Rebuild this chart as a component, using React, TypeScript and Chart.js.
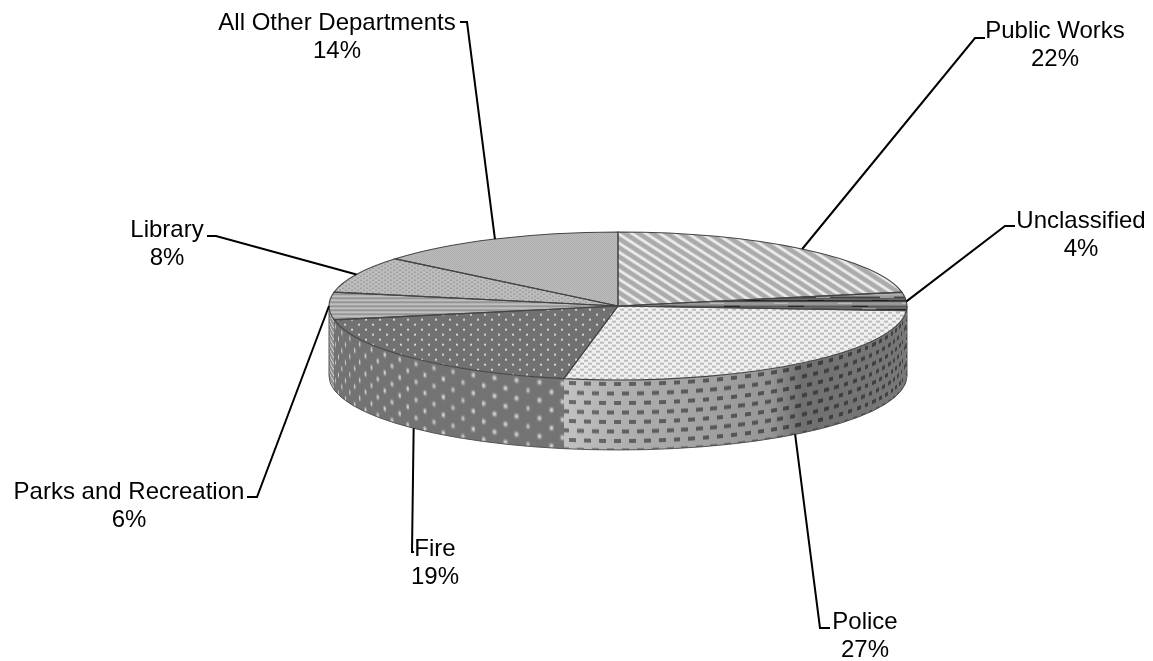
import React, { useEffect, useRef } from "react";
import { Chart, registerables } from "chart.js";

Chart.register(...registerables);

const departments = [
  "Public Works",
  "Unclassified",
  "Police",
  "Fire",
  "Parks and Recreation",
  "Library",
  "All Other Departments",
];
const shares = [22, 4, 27, 19, 6, 8, 14];

// Callout geometry: elbow of each leader and where its two text lines sit.
const elbows: [number, number, number][] = [
  [975, 38, 985],
  [1005, 226, 1015],
  [820, 628, 830],
  [412, 552, 414],
  [257, 497, 247],
  [216, 236, 207],
  [467, 22, 460],
];
const labelAnchors: [number, number][] = [
  [1055, 31],
  [1081, 221],
  [865, 622],
  [435, 549],
  [129, 492],
  [167, 230],
  [337, 23],
];

const TILT = 0.256;
const DEPTH = 70;
const FONT = '24px "Liberation Sans", Arial, sans-serif';

type Painter = (c: CanvasRenderingContext2D, w: number, h: number) => void;

function tile(w: number, h: number, paint: Painter): HTMLCanvasElement {
  const cv = document.createElement("canvas");
  cv.width = w;
  cv.height = h;
  paint(cv.getContext("2d")!, w, h);
  return cv;
}

function spots(c: CanvasRenderingContext2D, color: string, pts: number[][], w: number, h: number) {
  c.fillStyle = color;
  pts.forEach(([x, y]) => c.fillRect(x, y, w, h));
}

// Top-face fills, one per department.
const topTiles: HTMLCanvasElement[] = [
  tile(14, 9, (c, w, h) => {
    c.fillStyle = "#ececec";
    c.fillRect(0, 0, w, h);
    c.strokeStyle = "#ababab";
    c.lineWidth = 4.8;
    for (let i = -1; i <= 1; i++) {
      c.beginPath();
      c.moveTo(i * w - w, -h);
      c.lineTo(i * w + 2 * w, 2 * h);
      c.stroke();
    }
  }),
  tile(64, 18, (c, w, h) => {
    c.fillStyle = "#8a8a8a";
    c.fillRect(0, 0, w, h);
    const rows = ["#2e2e2e", "#9a9a9a", "#5a5a5a", "#1c1c1c", "#b0b0b0", "#444"];
    rows.forEach((col, i) => {
      c.fillStyle = col;
      c.fillRect(0, i * 3, w, 2);
    });
    spots(c, "#c8c8c8", [[6, 3], [30, 9], [48, 15]], 14, 1);
    spots(c, "#111", [[20, 6], [40, 0]], 16, 1);
  }),
  tile(8, 6, (c, w, h) => {
    c.fillStyle = "#f0f0f0";
    c.fillRect(0, 0, w, h);
    spots(c, "#bcbcbc", [[0, 0], [4, 3]], 4, 2);
  }),
  tile(14, 10, (c, w, h) => {
    c.fillStyle = "#717171";
    c.fillRect(0, 0, w, h);
    spots(c, "#d6d6d6", [[1, 1], [8, 6]], 2, 2);
  }),
  tile(4, 4, (c, w, h) => {
    c.fillStyle = "#aaaaaa";
    c.fillRect(0, 0, w, h);
    c.fillStyle = "#cbcbcb";
    c.fillRect(0, 0, w, 1);
    c.fillStyle = "#8e8e8e";
    c.fillRect(0, 2, w, 1);
  }),
  tile(6, 4, (c, w, h) => {
    c.fillStyle = "#bdbdbd";
    c.fillRect(0, 0, w, h);
    spots(c, "#929292", [[0, 0], [3, 2]], 2, 1);
  }),
  tile(2, 2, (c, w, h) => {
    c.fillStyle = "#c4c4c4";
    c.fillRect(0, 0, w, h);
    c.fillStyle = "#a6a6a6";
    c.fillRect(0, 0, 1, 1);
    c.fillRect(1, 1, 1, 1);
  }),
];

// Side-wall textures; transparent parts let the shading show through.
const wallTiles: HTMLCanvasElement[] = [
  topTiles[0],
  topTiles[1],
  tile(15, 19, (c) => {
    c.filter = "blur(0.7px)";
    spots(c, "rgba(0,0,0,0.45)", [[1, 2], [8, 11.5]], 7, 4);
  }),
  tile(24, 18, (c) => {
    c.filter = "blur(0.8px)";
    spots(c, "#eeeeee", [[4, 3], [16, 12]], 3, 4);
  }),
  tile(12, 6, (c) => {
    spots(c, "#c8c8c8", [[0, 1]], 12, 2);
  }),
  topTiles[5],
  topTiles[6],
];

// Shading of the rim at a given canvas x, per department.
function wallTone(index: number, x: number): string {
  if (index === 2) {
    const stops = [
      [550, 198],
      [620, 176],
      [770, 150],
      [800, 112],
      [907, 120],
    ];
    let v = stops[stops.length - 1][1];
    for (let s = 0; s < stops.length - 1; s++) {
      if (x <= stops[s + 1][0]) {
        const t = Math.max(0, (x - stops[s][0]) / (stops[s + 1][0] - stops[s][0]));
        v = stops[s][1] + (stops[s + 1][1] - stops[s][1]) * t;
        break;
      }
    }
    v = Math.round(v);
    return `rgb(${v},${v},${v})`;
  }
  if (index === 3) return "#737373";
  if (index === 4) return "#8e8e8e";
  return "#808080";
}

const pseudo3d = {
  id: "pseudo3d",
  beforeDatasetsDraw(chart: Chart) {
    const ctx = chart.ctx;
    const arcs = chart.getDatasetMeta(0).data as any[];
    const { x: cx, y: cy, outerRadius: rx } = arcs[0];
    const ry = rx * TILT;

    // Side wall: each pixel column samples a flat strip by arc length, so the
    // texture wraps round the rim instead of sitting flat on it.
    arcs.forEach((arc, i) => {
      const a0 = Math.max(arc.startAngle, 0);
      const a1 = Math.min(arc.endAngle, Math.PI);
      if (a1 <= a0) return;
      const x0 = Math.floor(cx + rx * Math.cos(a1));
      const x1 = Math.ceil(cx + rx * Math.cos(a0));
      const stripW = Math.ceil(rx * Math.PI) + 4;
      const strip = tile(stripW, DEPTH + 2, (c, w, h) => {
        c.fillStyle = c.createPattern(wallTiles[i], "repeat")!;
        c.fillRect(0, 0, w, h);
      });
      for (let x = x0; x < x1; x++) {
        const clamped = Math.min(1, Math.max(-1, (x + 0.5 - cx) / rx));
        const ang = Math.acos(clamped);
        if (ang < a0 || ang > a1) continue;
        const yTop = cy + ry * Math.sin(ang);
        ctx.fillStyle = wallTone(i, x);
        ctx.fillRect(x, yTop, 1, DEPTH);
        ctx.drawImage(strip, Math.floor(rx * ang), 0, 1, DEPTH, x, yTop, 1, DEPTH);
      }
    });

    // Silhouette of the rim: bottom curve and the two vertical ends.
    ctx.beginPath();
    ctx.moveTo(cx + rx, cy);
    ctx.lineTo(cx + rx, cy + DEPTH);
    ctx.ellipse(cx, cy + DEPTH, rx, ry, 0, 0, Math.PI);
    ctx.lineTo(cx - rx, cy);
    ctx.strokeStyle = "#555555";
    ctx.lineWidth = 1;
    ctx.stroke();

    // Everything the pie controller draws next lands on the flattened top face.
    ctx.save();
    ctx.translate(cx, cy);
    ctx.scale(1, TILT);
    ctx.translate(-cx, -cy);
  },
  afterDatasetsDraw(chart: Chart) {
    const ctx = chart.ctx;
    ctx.restore();

    // Slice outlines go in screen space so their weight survives the flattening.
    const arcs = chart.getDatasetMeta(0).data as any[];
    arcs.forEach((arc) => {
      const ry = arc.outerRadius * TILT;
      ctx.beginPath();
      ctx.moveTo(arc.x, arc.y);
      ctx.ellipse(arc.x, arc.y, arc.outerRadius, ry, 0, arc.startAngle, arc.endAngle);
      ctx.closePath();
      ctx.strokeStyle = "#454545";
      ctx.lineWidth = 1.1;
      ctx.stroke();
    });
  },
  afterDraw(chart: Chart) {
    const ctx = chart.ctx;
    const arcs = chart.getDatasetMeta(0).data as any[];
    const total = shares.reduce((a, b) => a + b, 0);
    arcs.forEach((arc, i) => {
      const mid = (arc.startAngle + arc.endAngle) / 2;
      const ry = arc.outerRadius * TILT;
      const px = arc.x + arc.outerRadius * Math.cos(mid);
      let py = arc.y + ry * Math.sin(mid);
      if (Math.sin(mid) > 0.05) py += DEPTH;
      const [ex, ey, tx] = elbows[i];
      ctx.beginPath();
      ctx.moveTo(px, py);
      ctx.lineTo(ex, ey);
      ctx.lineTo(tx, ey);
      ctx.strokeStyle = "#000";
      ctx.lineWidth = 2;
      ctx.stroke();

      const [lx, ly] = labelAnchors[i];
      ctx.font = FONT;
      ctx.fillStyle = "#000";
      ctx.textAlign = "center";
      ctx.textBaseline = "middle";
      ctx.fillText(departments[i], lx, ly);
      ctx.fillText(`${Math.round((shares[i] / total) * 100)}%`, lx, ly + 28.5);
    });
  },
};

export default function App() {
  const ref = useRef<HTMLCanvasElement>(null);
  useEffect(() => {
    const ctx = ref.current!.getContext("2d")!;
    const squash = new DOMMatrix().scale(1, 1 / TILT);
    const fills = topTiles.map((t) => {
      const p = ctx.createPattern(t, "repeat")!;
      p.setTransform(squash);
      return p;
    });
    const chart = new Chart(ctx, {
      type: "pie",
      data: {
        labels: departments,
        datasets: [
          {
            data: shares,
            backgroundColor: fills,
            borderWidth: 0,
            clip: false,
          } as any,
        ],
      },
      options: {
        responsive: false,
        animation: false,
        layout: { padding: { left: 329, right: 246, top: 17, bottom: 66 } },
        plugins: { legend: { display: false }, tooltip: { enabled: false } },
      },
      plugins: [pseudo3d],
    });
    return () => chart.destroy();
  }, []);
  return (
    <div style={{ position: "absolute", left: 0, top: 0, width: 1153, height: 661, background: "#fff" }}>
      <canvas ref={ref} width={1153} height={661} style={{ display: "block" }} />
    </div>
  );
}
